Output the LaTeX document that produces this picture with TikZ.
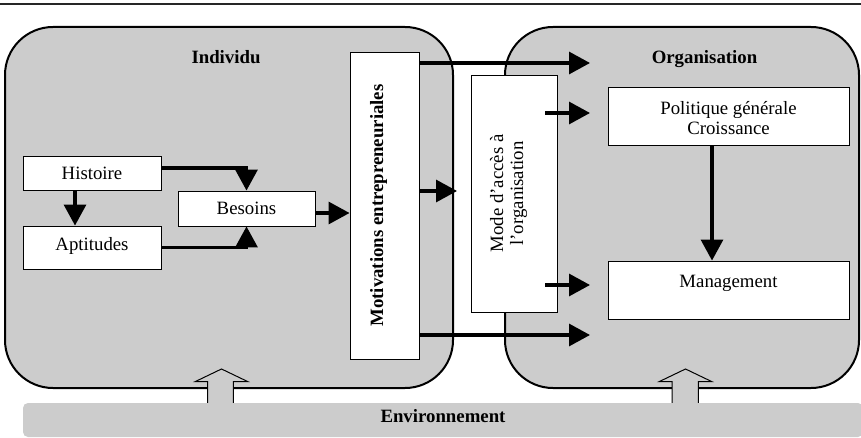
\documentclass[tikz,border=0pt]{standalone}
\usepackage{fontspec}
\setmainfont{Liberation Serif}
\usetikzlibrary{arrows.meta}
\definecolor{panel}{RGB}{204,204,204}
\begin{document}
\begin{tikzpicture}[x=1pt,y=-1pt,
  font=\fontsize{18.8}{20}\selectfont,
  panelbox/.style={draw=black, line width=2pt, fill=panel, rounded corners=48pt, inner sep=0pt},
  mbox/.style={draw=black, line width=0.9pt, fill=white, inner sep=0pt},
  sbox/.style={mbox, text height=12.5pt, text depth=0pt},
  boldfont/.style={font=\fontsize{18.8}{20}\selectfont\bfseries},
  lbl/.style={boldfont, inner sep=0pt, text height=12.5pt, text depth=0pt},
  arr/.style={line width=3.2pt, -{Triangle[length=21pt,width=22pt]}},
  hollow/.style={draw=black, line width=1pt, fill=panel, line join=miter},
]
\useasboundingbox (0,0) rectangle (861,438);
\clip (0,0) rectangle (861,438);
% top rule
\draw[line width=2pt, black!85] (0,4.3) -- (861,4.3);
% panels
\node[panelbox, minimum width=448pt, minimum height=361pt] (indiv) at (229,207.5) {};
\node[panelbox, minimum width=354pt, minimum height=361pt] (orga) at (682,207.5) {};
\node[lbl] (lindiv) at (226,57.75) {Individu};
\node[lbl] (lorga) at (704.5,57.75) {Organisation};
% environment arrows and bar
\filldraw[hollow] (207.7,404) -- (207.7,381.7) -- (195,381.7) -- (221.5,369) -- (248,381.7) -- (233.3,381.7) -- (233.3,404);
\filldraw[hollow] (672,404) -- (672,381.7) -- (659,381.7) -- (685.5,369) -- (712,381.7) -- (698.3,381.7) -- (698.3,404);
\node[fill=panel, rounded corners=5pt, minimum width=840pt, minimum height=34pt, inner sep=0pt,
      boldfont, text height=12.5pt, text depth=8.5pt] (env) at (443,420) {Environnement};
% boxes
\node[sbox, minimum width=138pt, minimum height=34pt] (hist) at (92,173) {Histoire};
\node[sbox, minimum width=138pt, minimum height=43pt, text depth=5.5pt] (apt) at (92,247.5) {Aptitudes};
\node[sbox, minimum width=137pt, minimum height=35pt] (bes) at (246.5,208.5) {Besoins};
\node[mbox, rotate=90, minimum width=307pt, minimum height=69pt, boldfont,
      text height=12pt, text depth=15pt] (mot) at (384.5,205.5) {Motivations entrepreneuriales};
\node[mbox, rotate=90, minimum width=237pt, minimum height=86pt, align=center] (mode) at (514,193.5)
      {Mode d’accès à\\l’organisation\rule[-14.8pt]{0pt}{0pt}};
\node[mbox, minimum width=241pt, minimum height=58pt, align=center] (pol) at (728.5,116)
      {\rule{0pt}{18pt}Politique générale\\Croissance};
\node[sbox, minimum width=241pt, minimum height=58pt, text depth=18.5pt] (man) at (728.5,290) {Management};
% connectors
\coordinate (bout) at ([yshift=-4.5pt]bes.east);
\coordinate (t1) at (590,63);
\coordinate (t2) at (457,191);
\coordinate (t3) at (590,335);
\coordinate (t4) at (590,113);
\coordinate (t5) at (590,285);
\coordinate (m4) at ([xshift=-12pt]mode.south);
\coordinate (p1) at ([xshift=-16.5pt]pol.south);
\coordinate (h1) at ([xshift=-17pt]hist.south);
\draw[arr] ([yshift=5pt]hist.east) -| (bes.north);
\draw[arr] (apt.east) -| (bes.south);
\draw[arr] (h1) -- (h1 |- apt.north);
\draw[arr] (bout) -- (bout -| mot.north);
\draw[arr] (mot.south |- t1) -- (t1);
\draw[arr] (mot.south |- t2) -- (t2);
\draw[arr] (mot.south |- t3) -- (t3);
\draw[arr] (m4 |- t4) -- (t4);
\draw[arr] (m4 |- t5) -- (t5);
\draw[arr] (p1) -- (p1 |- man.north);
\end{tikzpicture}
\end{document}
